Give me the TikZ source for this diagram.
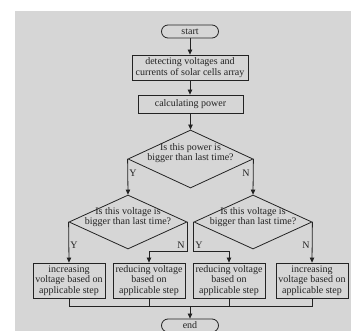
\documentclass[tikz,border=0pt]{standalone}
\usepackage{fontspec}
\setmainfont{Liberation Serif}
\usetikzlibrary{shapes.geometric,arrows.meta}
\definecolor{bgc}{RGB}{214,214,214}
\definecolor{ink}{RGB}{35,35,35}
\begin{document}
\begin{tikzpicture}[x=1pt,y=-1pt,
  every node/.style={font=\fontsize{10}{10.6}\selectfont, text=ink},
  line/.style={draw=ink, line width=0.8pt},
  arr/.style={line, -{Triangle[length=5pt,width=4.5pt]}},
  term/.style={line, rectangle, rounded corners=6.5pt, minimum width=57pt, minimum height=13pt, inner sep=0pt},
  proc/.style={line, rectangle, inner sep=0pt, align=center},
  bot/.style={proc, minimum width=72pt, minimum height=35pt},
  dia/.style={line, diamond, inner sep=0pt},
  dtext/.style={align=center, inner sep=0pt},
  lab/.style={inner sep=0pt}
]
\useasboundingbox (0,0) rectangle (351,331);
\fill[bgc] (15,11) rectangle (351,331);

\node[term] (start) at (190,31.5) {start};
\node[proc, minimum width=116pt, minimum height=25pt] (detect) at (190,67.5) {detecting voltages and\\currents of solar cells array};
\node[proc, minimum width=105pt, minimum height=18pt] (calc) at (190.5,104) {calculating power};

\node[dia, minimum width=125pt, minimum height=58pt] (d1) at (190.5,159) {};
\node[dtext] (d1t) at (190.5,153) {Is this power is\\bigger than last time?};
\node[dia, minimum width=118pt, minimum height=54pt] (d2l) at (128,222) {};
\node[dtext] (d2lt) at (128,217) {Is this voltage is\\bigger than last time?};
\node[dia, minimum width=118pt, minimum height=54pt] (d2r) at (253,222) {};
\node[dtext] (d2rt) at (253,217) {Is this voltage is\\bigger than last time?};

\node[bot] (b1) at (69,280.5) {increasing\\voltage based on\\applicable step};
\node[bot] (b2) at (149,280.5) {reducing voltage\\based on\\applicable step};
\node[bot] (b3) at (229,280.5) {reducing voltage\\based on\\applicable step};
\node[bot] (b4) at (312,280.5) {increasing\\voltage based on\\applicable step};

\node[term] (end) at (190,325.5) {end};

\node[lab] (y1) at (133,173) {Y};
\node[lab] (n1) at (246,173) {N};
\node[lab] (y2) at (74,245) {Y};
\node[lab] (n2) at (181,245) {N};
\node[lab] (y3) at (199,245) {Y};
\node[lab] (n3) at (306,245) {N};

\coordinate (jy) at (0,251);
\coordinate (my) at (0,306);

\draw[arr] (start.south) -- (detect.north);
\draw[arr] (detect.south) -- (calc.north -| detect.south);
\draw[arr] (calc.south) -- (d1.north);
\draw[arr] (d1.west) -- (d2l.north);
\draw[arr] (d1.east) -- (d2r.north);
\draw[arr] (d2l.west) -- (b1.north);
\draw[arr] (d2l.east) -- (d2l.east |- jy) -| (b2.north);
\draw[arr] (d2r.west) -- (d2r.west |- jy) -| (b3.north);
\draw[arr] (d2r.east) -- (b4.north);

\draw[line] (b1.south) -- (b1.south |- my) -- (b4.south |- my) -- (b4.south);
\draw[line] (b2.south) -- (b2.south |- my);
\draw[line] (b3.south) -- (b3.south |- my);
\draw[arr] (end.north |- my) -- (end.north);
\end{tikzpicture}
\end{document}
